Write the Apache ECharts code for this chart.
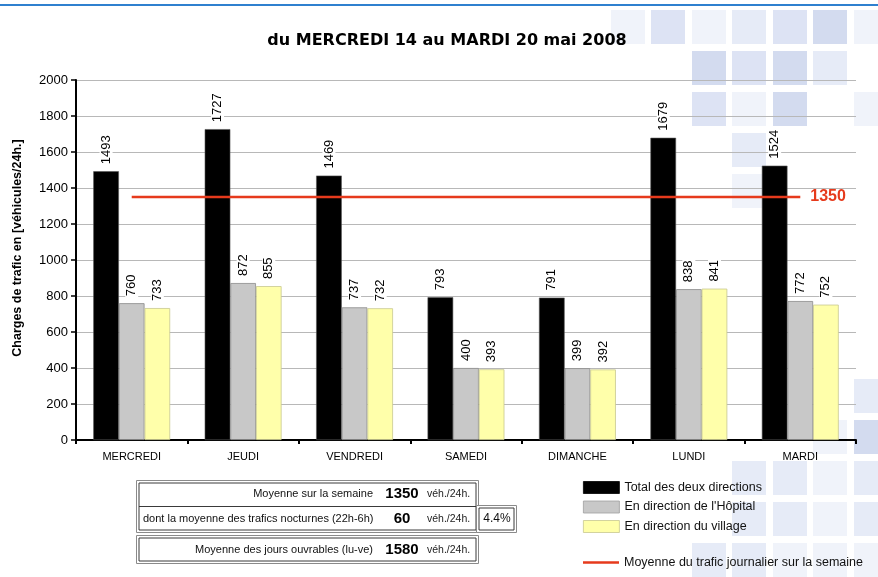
<!DOCTYPE html>
<html>
<head>
<meta charset="utf-8">
<script src="https://cdn.jsdelivr.net/npm/echarts@6/dist/echarts.min.js"></script>
<style>
  html, body { margin: 0; padding: 0; background: #ffffff; }
  #chart { width: 878px; height: 577px; }
</style>
</head>
<body>
<div id="chart"></div>
<script>
// Daily traffic counts, Wednesday 14 to Tuesday 20 May 2008
const days = ['MERCREDI', 'JEUDI', 'VENDREDI', 'SAMEDI', 'DIMANCHE', 'LUNDI', 'MARDI'];
const totalBoth = [1493, 1727, 1469, 793, 791, 1679, 1524];
const towardHopital = [760, 872, 737, 400, 399, 838, 772];
const towardVillage = [733, 855, 732, 393, 392, 841, 752];
const weekMean = [1350, 1350, 1350, 1350, 1350, 1350, 1350];

// Summary table
const statLabels = ['Moyenne sur la semaine', 'dont la moyenne des trafics nocturnes (22h-6h)', 'Moyenne des jours ouvrables (lu-ve)'];
const statValues = [1350, 60, 1580];
const statUnit = 'véh./24h.';
const nightShare = '4.4%';

const seriesNames = ['Total des deux directions', "En direction de l'Hôpital", 'En direction du village', 'Moyenne du trafic journalier sur la semaine'];
const yAxisTitle = 'Charges de trafic en [véhicules/24h.]';

const FONT = '"Liberation Sans", Arial, sans-serif';
const RED = '#e63a1c';

// Decorative tile pattern (column index, row index, colour)
const tileCols = [611, 651, 692, 732, 773, 813, 854];
const tileRows = [10, 51, 92, 133, 174, 215, 256, 297, 338, 379, 420, 461, 502, 543];
const D = '#d3dbef', M = '#dde3f4', L = '#e6ebf7', X = '#f0f3fa';
const tiles = [
  [0, 0, X], [1, 0, M], [2, 0, X], [3, 0, L], [4, 0, M], [5, 0, D], [6, 0, X],
  [2, 1, D], [3, 1, M], [4, 1, D], [5, 1, L],
  [2, 2, M], [3, 2, X], [4, 2, D], [6, 2, X],
  [3, 3, L], [3, 4, X],
  [6, 9, L], [6, 10, D], [5, 10, X],
  [3, 11, L], [4, 11, L], [5, 11, X], [6, 11, L],
  [3, 12, L], [4, 12, L], [5, 12, X], [6, 12, L],
  [2, 13, L], [3, 13, L], [4, 13, X], [5, 13, X], [6, 13, X]
];

const graphics = [];
tiles.forEach(function (t) {
  graphics.push({
    type: 'rect', z: -10, silent: true,
    shape: { x: tileCols[t[0]], y: tileRows[t[1]], width: 34, height: 34 },
    style: { fill: t[2] }
  });
});

// Top rule
graphics.push({
  type: 'rect', z: 5, silent: true,
  shape: { x: 0, y: 4, width: 878, height: 2 },
  style: { fill: '#2f80cf' }
});

// Vertical axis title
graphics.push({
  type: 'text', z: 5, x: 18, y: 248, rotation: Math.PI / 2,
  style: { text: yAxisTitle, x: 0, y: 0, textAlign: 'center', textVerticalAlign: 'middle',
    font: 'bold 12.5px ' + FONT, fill: '#000' }
});

// Double-framed boxes
function frame(x, y, w, h) {
  graphics.push({ type: 'rect', z: 5, shape: { x: x, y: y, width: w, height: h },
    style: { fill: '#ffffff', stroke: '#8a8a8a', lineWidth: 1 } });
  graphics.push({ type: 'rect', z: 5, shape: { x: x + 2.5, y: y + 2.5, width: w - 5, height: h - 5 },
    style: { fill: 'none', stroke: '#3a3a3a', lineWidth: 1 } });
}
frame(136.5, 480.5, 342, 52);
frame(476.5, 505.5, 40, 27);
graphics.push({ type: 'rect', z: 6, shape: { x: 139, y: 506, width: 337, height: 1 }, style: { fill: '#3a3a3a' } });
frame(136.5, 535.5, 342, 28);

const rowY = [494, 519, 550];
statLabels.forEach(function (label, i) {
  graphics.push({ type: 'text', z: 7, style: {
    text: label, x: i === 1 ? 143 : 373, y: rowY[i],
    textAlign: i === 1 ? 'left' : 'right', textVerticalAlign: 'middle',
    font: '11px ' + FONT, fill: '#111' } });
  graphics.push({ type: 'text', z: 7, style: {
    text: String(statValues[i]), x: 402, y: rowY[i],
    textAlign: 'center', textVerticalAlign: 'middle',
    font: 'bold 15px ' + FONT, fill: '#000' } });
  graphics.push({ type: 'text', z: 7, style: {
    text: statUnit, x: 427, y: rowY[i],
    textAlign: 'left', textVerticalAlign: 'middle',
    font: '10.5px ' + FONT, fill: '#222' } });
});
graphics.push({ type: 'text', z: 7, style: {
  text: nightShare, x: 497, y: rowY[1], textAlign: 'center', textVerticalAlign: 'middle',
  font: '12px ' + FONT, fill: '#111' } });

const barLabel = {
  show: true, position: 'top', rotate: 90, align: 'left', verticalAlign: 'middle',
  distance: 5, fontSize: 13, fontFamily: FONT, color: '#000',
  backgroundColor: '#ffffff', padding: [0, 2, 0, 2]
};

const legendText = { fontSize: 12.5, fontFamily: FONT, color: '#111', lineHeight: 12 };
const legendBorders = ['#000000', '#a0a0a0', '#c8c890'];

const chart = echarts.init(document.getElementById('chart'), null, { renderer: 'canvas' });
chart.setOption({
  animation: false,
  backgroundColor: 'transparent',
  title: {
    text: 'du MERCREDI 14 au MARDI 20 mai 2008',
    left: 442, top: 28, textAlign: 'center',
    textStyle: { fontFamily: '"DejaVu Sans", sans-serif', fontWeight: 'bold', fontSize: 16, color: '#000' }
  },
  grid: { left: 76, right: 22, top: 80, bottom: 137 },
  legend: [{
    data: seriesNames.slice(0, 3).map(function (n, i) {
      return { name: n, itemStyle: { borderColor: legendBorders[i], borderWidth: 0.8 } };
    }),
    orient: 'vertical', left: 583, top: 481, padding: 0,
    icon: 'rect', itemWidth: 36, itemHeight: 12, itemGap: 6.5,
    textStyle: legendText, selectedMode: false
  }, {
    data: [seriesNames[3]],
    orient: 'vertical', left: 583, top: 556, padding: 0,
    icon: 'rect', itemWidth: 36, itemHeight: 2.5,
    textStyle: legendText, selectedMode: false
  }],
  xAxis: {
    type: 'category', data: days,
    axisLine: { lineStyle: { color: '#000', width: 2 } },
    axisTick: { show: true, length: 4, lineStyle: { color: '#000', width: 2 } },
    axisLabel: { fontSize: 11, fontFamily: FONT, color: '#000', margin: 11 }
  },
  yAxis: {
    type: 'value', min: 0, max: 2000, interval: 200,
    axisLine: { show: true, lineStyle: { color: '#000', width: 2 } },
    axisTick: { show: true, length: 5, lineStyle: { color: '#000', width: 1.5 } },
    axisLabel: { fontSize: 13, fontFamily: FONT, color: '#000', margin: 8,
      formatter: function (v) { return String(v); } },
    splitLine: { lineStyle: { color: '#b8b8b8', width: 1 } }
  },
  graphic: graphics,
  series: [{
    name: seriesNames[0], type: 'bar', data: totalBoth,
    barGap: 0, barCategoryGap: '31%',
    itemStyle: { color: '#000000', borderColor: '#555', borderWidth: 0.6 },
    label: barLabel
  }, {
    name: seriesNames[1], type: 'bar', data: towardHopital,
    itemStyle: { color: '#c8c8c8', borderColor: '#8c8c8c', borderWidth: 0.8 },
    label: barLabel
  }, {
    name: seriesNames[2], type: 'bar', data: towardVillage,
    itemStyle: { color: '#ffffaa', borderColor: '#c8c890', borderWidth: 0.8 },
    label: barLabel
  }, {
    name: seriesNames[3], type: 'line', z: 5,
    data: weekMean,
    symbol: 'none', showSymbol: false,
    lineStyle: { color: RED, width: 2.5 },
    itemStyle: { color: RED },
    endLabel: { show: true, distance: 10, formatter: '{c}',
      fontSize: 16, fontWeight: 'bold', fontFamily: FONT, color: RED }
  }]
});
</script>
</body>
</html>
